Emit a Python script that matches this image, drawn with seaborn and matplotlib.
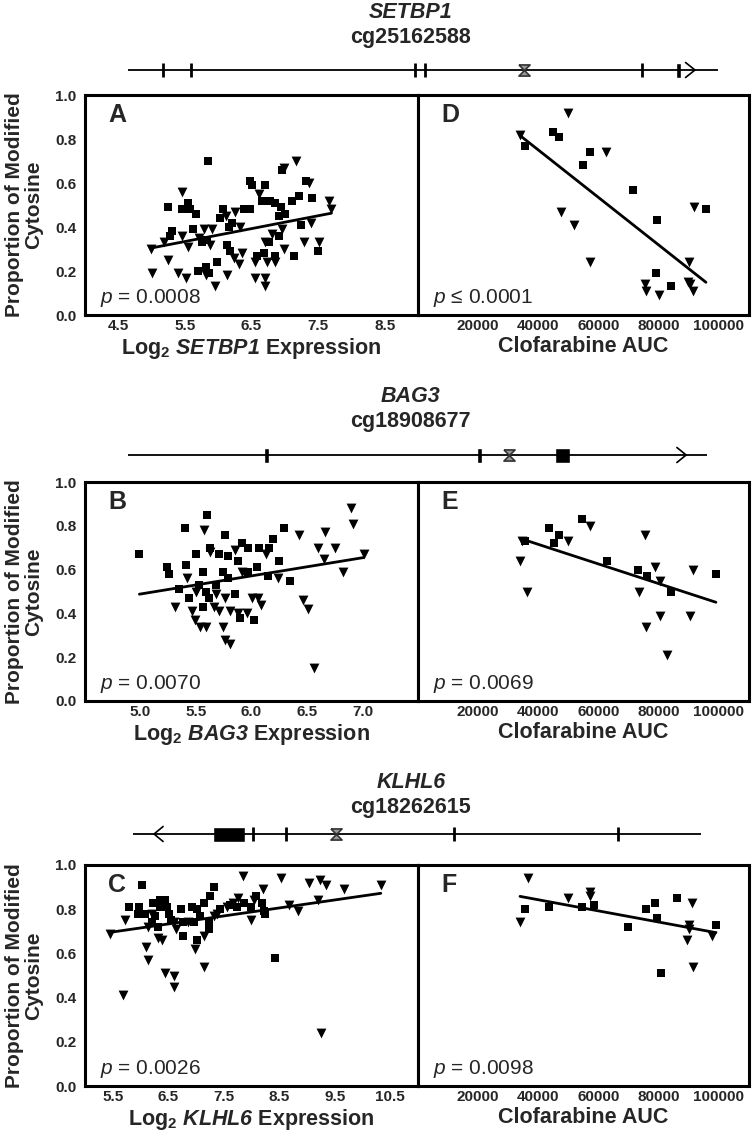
import numpy as np
import pandas as pd
import matplotlib
matplotlib.use("Agg")
import matplotlib.pyplot as plt
import seaborn as sns

# ---- panel data ----
# A: SETBP1 expression vs cg25162588
a_sq_x = [5.84, 5.24, 5.30, 5.28, 5.45, 5.55, 5.57, 5.67, 5.62, 5.70, 5.86, 5.82, 5.98, 6.07, 6.03,
          6.16, 6.13, 6.18, 6.21, 6.38, 6.48, 6.47, 6.50, 6.70, 6.66, 6.78, 6.86, 6.94, 6.91, 7.01,
          6.96, 7.11, 7.22, 7.41, 7.32, 7.24, 7.14, 7.50, 6.59, 6.86, 6.91, 6.77, 6.69, 5.83, 5.75]
a_sq_y = [0.70, 0.49, 0.38, 0.36, 0.48, 0.51, 0.48, 0.46, 0.39, 0.20, 0.19, 0.22, 0.24, 0.48, 0.44,
          0.40, 0.32, 0.29, 0.42, 0.48, 0.48, 0.61, 0.59, 0.59, 0.52, 0.52, 0.51, 0.49, 0.45, 0.46,
          0.66, 0.52, 0.54, 0.53, 0.61, 0.41, 0.27, 0.29, 0.27, 0.27, 0.36, 0.33, 0.28, 0.34, 0.33]
a_tri_x = [4.99, 5.01, 5.18, 5.25, 5.46, 5.45, 5.40, 5.52, 5.55, 5.71, 5.79, 5.91, 5.88, 5.95, 6.13,
           6.23, 6.31, 6.36, 6.25, 6.33, 6.11, 6.56, 6.56, 6.71, 6.71, 6.61, 6.71, 6.74, 6.85, 6.99,
           6.99, 7.17, 7.29, 7.36, 7.39, 7.52, 7.67, 7.70, 6.96, 6.81, 5.81]
a_tri_y = [0.30, 0.19, 0.33, 0.25, 0.56, 0.36, 0.19, 0.17, 0.31, 0.35, 0.39, 0.39, 0.32, 0.13, 0.18,
           0.26, 0.23, 0.28, 0.47, 0.40, 0.45, 0.17, 0.24, 0.17, 0.13, 0.55, 0.33, 0.24, 0.24, 0.30,
           0.67, 0.70, 0.33, 0.60, 0.42, 0.33, 0.52, 0.48, 0.39, 0.37, 0.18]

# D: clofarabine AUC vs cg25162588
d_sq_x = [35600, 44900, 47000, 57000, 54800, 71300, 79400, 95700, 79100, 84100]
d_sq_y = [0.77, 0.83, 0.81, 0.74, 0.68, 0.57, 0.43, 0.48, 0.19, 0.13]
d_tri_x = [49800, 33900, 62600, 47400, 51800, 57300, 91700, 90100, 89600, 75500, 75800, 80000, 91300, 90400]
d_tri_y = [0.92, 0.82, 0.74, 0.47, 0.41, 0.24, 0.49, 0.24, 0.15, 0.14, 0.11, 0.09, 0.11, 0.14]

# B: BAG3 expression vs cg18908677
b_sq_x = [4.99, 5.24, 5.26, 5.40, 5.60, 5.41, 5.50, 5.35, 5.44, 5.56, 5.63, 5.76, 5.71, 5.79, 5.91,
          5.97, 6.07, 6.05, 5.88, 6.16, 6.19, 6.25, 6.29, 6.35, 6.15, 5.97, 5.90, 6.02, 5.56, 5.62,
          5.68, 5.53, 5.85, 5.79, 5.59, 5.74]
b_sq_y = [0.67, 0.61, 0.58, 0.79, 0.85, 0.62, 0.67, 0.51, 0.47, 0.59, 0.70, 0.76, 0.67, 0.66, 0.72,
          0.70, 0.70, 0.61, 0.64, 0.70, 0.74, 0.64, 0.79, 0.55, 0.57, 0.59, 0.38, 0.37, 0.43, 0.47,
          0.53, 0.53, 0.49, 0.56, 0.50, 0.59]
b_tri_x = [5.31, 5.42, 5.57, 5.63, 5.49, 5.54, 5.59, 5.46, 5.50, 5.66, 5.71, 5.68, 5.76, 5.76, 5.81,
           5.81, 5.85, 5.88, 5.96, 6.00, 6.06, 6.09, 6.13, 6.24, 6.43, 6.46, 6.51, 6.56, 6.60, 6.65,
           6.66, 6.75, 6.82, 6.90, 6.91, 7.01, 5.91, 5.74]
b_tri_y = [0.43, 0.56, 0.78, 0.68, 0.37, 0.34, 0.34, 0.41, 0.50, 0.43, 0.41, 0.49, 0.47, 0.28, 0.26,
           0.41, 0.69, 0.40, 0.40, 0.47, 0.47, 0.44, 0.67, 0.56, 0.76, 0.46, 0.42, 0.15, 0.70, 0.65,
           0.77, 0.70, 0.59, 0.88, 0.81, 0.67, 0.59, 0.34]

# E: clofarabine AUC vs cg18908677
e_sq_x = [35600, 43500, 45200, 47000, 54500, 62800, 73000, 76100, 84100, 99000]
e_sq_y = [0.73, 0.79, 0.72, 0.76, 0.83, 0.64, 0.60, 0.57, 0.50, 0.58]
e_tri_x = [34400, 33900, 36300, 49800, 57100, 75500, 78800, 80300, 73600, 75800, 80500, 90400, 91500, 82700]
e_tri_y = [0.73, 0.64, 0.50, 0.73, 0.80, 0.76, 0.61, 0.55, 0.50, 0.34, 0.39, 0.39, 0.60, 0.21]

# C: KLHL6 expression vs cg18262615
c_sq_x = [5.79, 6.03, 5.97, 5.96, 6.09, 6.20, 6.23, 6.35, 6.35, 6.44, 6.47, 6.32, 6.52, 6.55, 6.76,
          6.76, 6.73, 6.93, 6.96, 7.01, 7.08, 7.14, 7.23, 7.23, 7.26, 7.32, 7.43, 7.61, 7.74, 7.87,
          7.99, 8.08, 8.19, 8.22, 8.25, 8.42, 6.26, 7.02]
c_sq_y = [0.81, 0.91, 0.81, 0.78, 0.78, 0.74, 0.83, 0.84, 0.81, 0.84, 0.81, 0.72, 0.78, 0.75, 0.74,
          0.68, 0.80, 0.81, 0.74, 0.66, 0.77, 0.83, 0.74, 0.71, 0.86, 0.90, 0.80, 0.82, 0.81, 0.83,
          0.81, 0.86, 0.83, 0.79, 0.78, 0.58, 0.77, 0.80]
c_tri_x = [5.45, 5.69, 5.72, 6.10, 6.14, 6.32, 6.38, 6.45, 6.60, 6.60, 6.61, 6.64, 6.99, 7.14, 7.14,
           7.38, 7.85, 7.76, 7.99, 8.05, 8.21, 8.54, 8.67, 8.83, 9.04, 9.19, 9.25, 9.23, 9.34, 9.66,
           10.33, 7.67, 7.55, 6.14, 6.85, 7.32, 6.20]
c_tri_y = [0.69, 0.41, 0.75, 0.63, 0.57, 0.67, 0.66, 0.51, 0.50, 0.45, 0.74, 0.71, 0.62, 0.54, 0.68,
           0.78, 0.95, 0.85, 0.75, 0.84, 0.89, 0.94, 0.82, 0.79, 0.92, 0.84, 0.24, 0.93, 0.91, 0.89,
           0.91, 0.83, 0.81, 0.72, 0.74, 0.77, 0.78]

# F: clofarabine AUC vs cg18262615
f_sq_x = [35500, 43500, 54500, 58600, 69700, 75800, 78900, 79400, 80800, 86000, 99000]
f_sq_y = [0.80, 0.81, 0.81, 0.82, 0.72, 0.80, 0.83, 0.76, 0.51, 0.85, 0.73]
f_tri_x = [36600, 33900, 49800, 57100, 57300, 91000, 90200, 90200, 89300, 91500, 97600]
f_tri_y = [0.94, 0.74, 0.85, 0.88, 0.86, 0.83, 0.73, 0.71, 0.66, 0.54, 0.68]

p_values = ["0.0008", "0.0070", "0.0026"]
p_values_auc = ["\u2264 0.0001", "= 0.0069", "= 0.0098"]

# gene models, positions in % of the drawn locus
genes = ["SETBP1", "BAG3", "KLHL6"]
probes = ["cg25162588", "cg18908677", "cg18262615"]
gene_ticks = [[6.0, 10.6, 48.7, 50.4, 87.1], [], [21.2, 26.9, 56.6, 85.4]]
gene_boxes = [[(92.8, 1.0)], [(23.5, 0.9), (60.3, 0.9), (73.7, 2.7)], [(14.1, 5.7)]]
gene_cpg = [67.2, 65.8, 35.8]
gene_tss = [96.1, 96.4, 3.7]
gene_strand = [1, 1, -1]

# ---- style ----
sns.set_style("white")
plt.rcParams["font.family"] = ["Liberation Sans", "DejaVu Sans"]
plt.rcParams["mathtext.fontset"] = "custom"
plt.rcParams["mathtext.rm"] = "Liberation Sans:italic:bold"
plt.rcParams["mathtext.bf"] = "Liberation Sans:bold"
plt.rcParams["mathtext.it"] = "Liberation Sans:italic:bold"
plt.rcParams["mathtext.sf"] = "Liberation Sans:italic"

W, H = 754, 1140
fig = plt.figure(figsize=(W / 100, H / 100), dpi=100)

def fr(x0, y_bottom, w, h):
    return [x0 / W, 1 - y_bottom / H, w / W, h / H]

ax_rows = [
    (fr(85, 315, 333, 220), fr(418, 315, 331, 220)),
    (fr(85, 701, 333, 219), fr(418, 701, 331, 219)),
    (fr(85, 1086, 333, 221), fr(418, 1086, 331, 221)),
]
diag_pos = [(128, 718, 70), (128, 707, 455), (133, 701, 834)]
title_y = [(12, 37), (397, 422), (782, 807)]


def panel(ax, sq_x, sq_y, tri_x, tri_y, letter, ptxt, xlim, xticks, xlabel, left):
    sq = pd.DataFrame({"x": sq_x, "y": sq_y})
    tri = pd.DataFrame({"x": tri_x, "y": tri_y})
    both = pd.concat([sq, tri], ignore_index=True)
    sns.scatterplot(data=sq, x="x", y="y", marker="s", s=36, color="black",
                    edgecolor="black", linewidth=0, ax=ax)
    sns.scatterplot(data=tri, x="x", y="y", marker="v", s=50, color="black",
                    edgecolor="black", linewidth=0, ax=ax)
    sns.regplot(data=both, x="x", y="y", scatter=False, ci=None, color="black",
                line_kws={"lw": 2}, ax=ax)
    ax.set_xlim(*xlim)
    ax.set_ylim(0, 1.0)
    ax.set_xticks(xticks)
    if isinstance(xticks[0], float):
        ax.set_xticklabels([f"{t:.1f}" for t in xticks], fontweight="bold", fontsize=11)
    else:
        ax.set_xticklabels([str(t) for t in xticks], fontweight="bold", fontsize=11)
    ax.tick_params(axis="x", direction="in", length=5, width=2, pad=3)
    if left:
        yt = [0.0, 0.2, 0.4, 0.6, 0.8, 1.0]
        ax.set_yticks(yt)
        ax.set_yticklabels([f"{t:.1f}" for t in yt], fontweight="bold", fontsize=11)
        ax.tick_params(axis="y", direction="out", length=5, width=2, pad=1)
        ax.set_ylabel("Proportion of Modified\nCytosine", fontsize=15, fontweight="bold",
                      linespacing=1.0)
        ax.yaxis.set_label_coords(-0.125, 0.5)
    else:
        ax.set_yticks([])
        ax.set_ylabel("")
    ax.set_xlabel(xlabel, fontsize=15.5, fontweight="bold")
    ax.xaxis.set_label_coords(0.5, -0.095)
    for sp in ax.spines.values():
        sp.set_visible(True)
        sp.set_linewidth(2.2)
        sp.set_color("black")
    ax.text(0.07, 0.91, letter, transform=ax.transAxes, fontsize=18, fontweight="bold",
            ha="left", va="center")
    ax.text(0.045, 0.055, r"$\mathsf{p}$ " + ptxt, transform=ax.transAxes, fontsize=15,
            ha="left", va="baseline")


def gene_model(i):
    x0, x1, yc = diag_pos[i]
    ax = fig.add_axes([x0 / W, 1 - (yc + 15) / H, (x1 - x0) / W, 30 / H])
    ax.set_xlim(0, 100)
    ax.set_ylim(-1, 1)
    ax.axis("off")
    ax.hlines(0, 0, 100, color="black", lw=1.3)
    ax.vlines(gene_ticks[i], -0.45, 0.45, color="black", lw=2)
    for start, width in gene_boxes[i]:
        ax.bar(start, 1.0, width=width, bottom=-0.5, align="edge", color="black")
    tip = gene_tss[i]
    d = -1.6 * gene_strand[i]
    ax.plot([tip + d, tip, tip + d], [0.5, 0, -0.5], color="black", lw=1.2)
    hourglass = [(-1, 1), (1, 1), (-1, -1), (1, -1), (-1, 1)]
    ax.plot(gene_cpg[i], 0, marker=hourglass, ms=8, mfc="#999999", mec="#333333", mew=1.2)
    ty1, ty2 = title_y[i]
    fig.text(0.545, 1 - ty1 / H, genes[i], fontsize=15.5, fontweight="bold", fontstyle="italic",
             ha="center", va="center")
    fig.text(0.545, 1 - ty2 / H, probes[i], fontsize=15.5, fontweight="bold",
             ha="center", va="center")


rows = [
    (a_sq_x, a_sq_y, a_tri_x, a_tri_y, d_sq_x, d_sq_y, d_tri_x, d_tri_y, "A", "D",
     (4.0, 9.0), [4.5, 5.5, 6.5, 7.5, 8.5]),
    (b_sq_x, b_sq_y, b_tri_x, b_tri_y, e_sq_x, e_sq_y, e_tri_x, e_tri_y, "B", "E",
     (4.5, 7.5), [5.0, 5.5, 6.0, 6.5, 7.0]),
    (c_sq_x, c_sq_y, c_tri_x, c_tri_y, f_sq_x, f_sq_y, f_tri_x, f_tri_y, "C", "F",
     (5.0, 11.0), [5.5, 6.5, 7.5, 8.5, 9.5, 10.5]),
]

for i, row in enumerate(rows):
    sqx, sqy, trx, tryy, sqx2, sqy2, trx2, try2, l1, l2, xlim, xt = row
    axl = fig.add_axes(ax_rows[i][0])
    axr = fig.add_axes(ax_rows[i][1])
    panel(axl, sqx, sqy, trx, tryy, l1, "= " + p_values[i], xlim, xt,
          r"Log$_\mathbf{2}$ $\mathrm{" + genes[i] + "}$ Expression", True)
    panel(axr, sqx2, sqy2, trx2, try2, l2, p_values_auc[i], (0, 110000),
          [20000, 40000, 60000, 80000, 100000], "Clofarabine AUC", False)
    gene_model(i)

fig.savefig("out.png", dpi=100)
